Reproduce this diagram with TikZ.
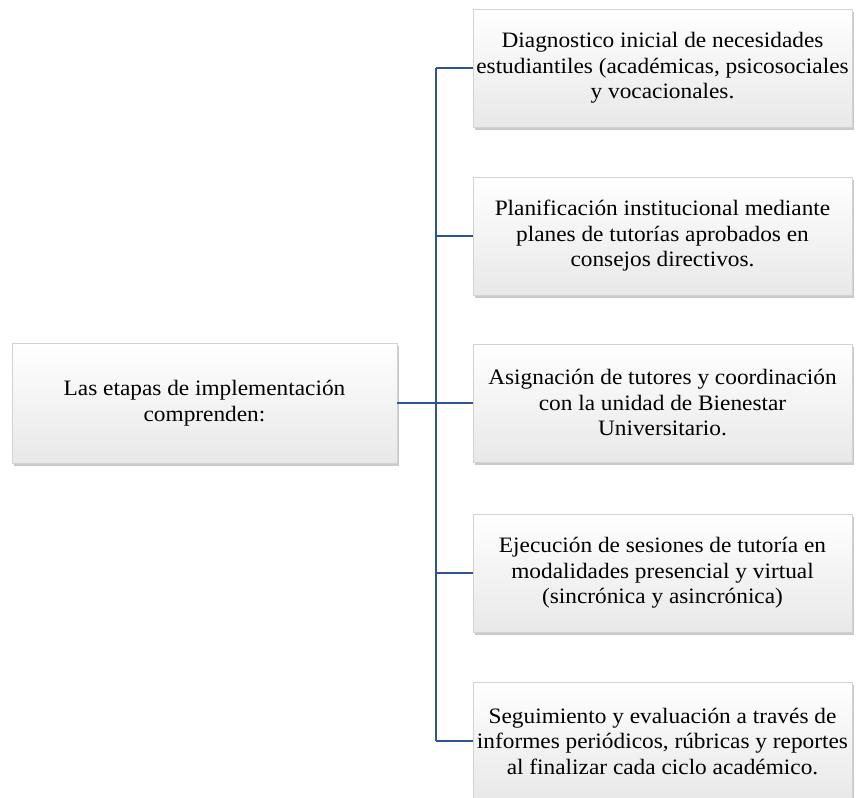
\documentclass[tikz,border=0pt]{standalone}
\usepackage{fontspec}
\setmainfont{Liberation Serif}
\newfontfamily\boxfont[FakeStretch=1.06]{Liberation Serif}
\usetikzlibrary{shadows}
\definecolor{linkblue}{RGB}{47,84,150}
\tikzset{
  stagebox/.style={draw=gray!35, line width=0.6pt, top color=white, bottom color=gray!18,
    minimum height=118pt, align=center, inner sep=2pt,
    font=\boxfont\fontsize{22}{25.5}\selectfont,
    drop shadow={shadow xshift=1.5pt, shadow yshift=-2.5pt, fill=gray!70, opacity=0.6}},
  rightbox/.style={stagebox, minimum width=379pt},
  leftbox/.style={stagebox, minimum width=385pt, minimum height=120pt},
  link/.style={draw=linkblue, line width=1.6pt}
}
\begin{document}
\begin{tikzpicture}[x=1pt,y=1pt]
\useasboundingbox (0,0) rectangle (860,-798);
\fill[white] (0,0) rectangle (860,-798);
\node[leftbox] (root) at (204.5,-403) {Las etapas de implementación\\comprenden:};
\node[rightbox] (b1) at (662.5,-68) {Diagnostico inicial de necesidades\\estudiantiles (académicas, psicosociales\\y vocacionales.};
\node[rightbox] (b2) at (662.5,-236) {Planificación institucional mediante\\planes de tutorías aprobados en\\consejos directivos.};
\node[rightbox] (b3) at (662.5,-403) {Asignación de tutores y coordinación\\con la unidad de Bienestar\\Universitario.};
\node[rightbox] (b4) at (662.5,-573) {Ejecución de sesiones de tutoría en\\modalidades presencial y virtual\\(sincrónica y asincrónica)};
\node[rightbox] (b5) at (662.5,-741) {Seguimiento y evaluación a través de\\informes periódicos, rúbricas y reportes\\al finalizar cada ciclo académico.};
\coordinate (top) at (436,-68);
\coordinate (bot) at (436,-741);
\coordinate (mid) at (436,-403);
\draw[link] (top) -- (bot);
\draw[link] (root.east) -- (mid);
\foreach \b in {b1,b2,b3,b4,b5}{
  \draw[link] (\b.west -| mid) -- (\b.west);
}
\end{tikzpicture}
\end{document}
